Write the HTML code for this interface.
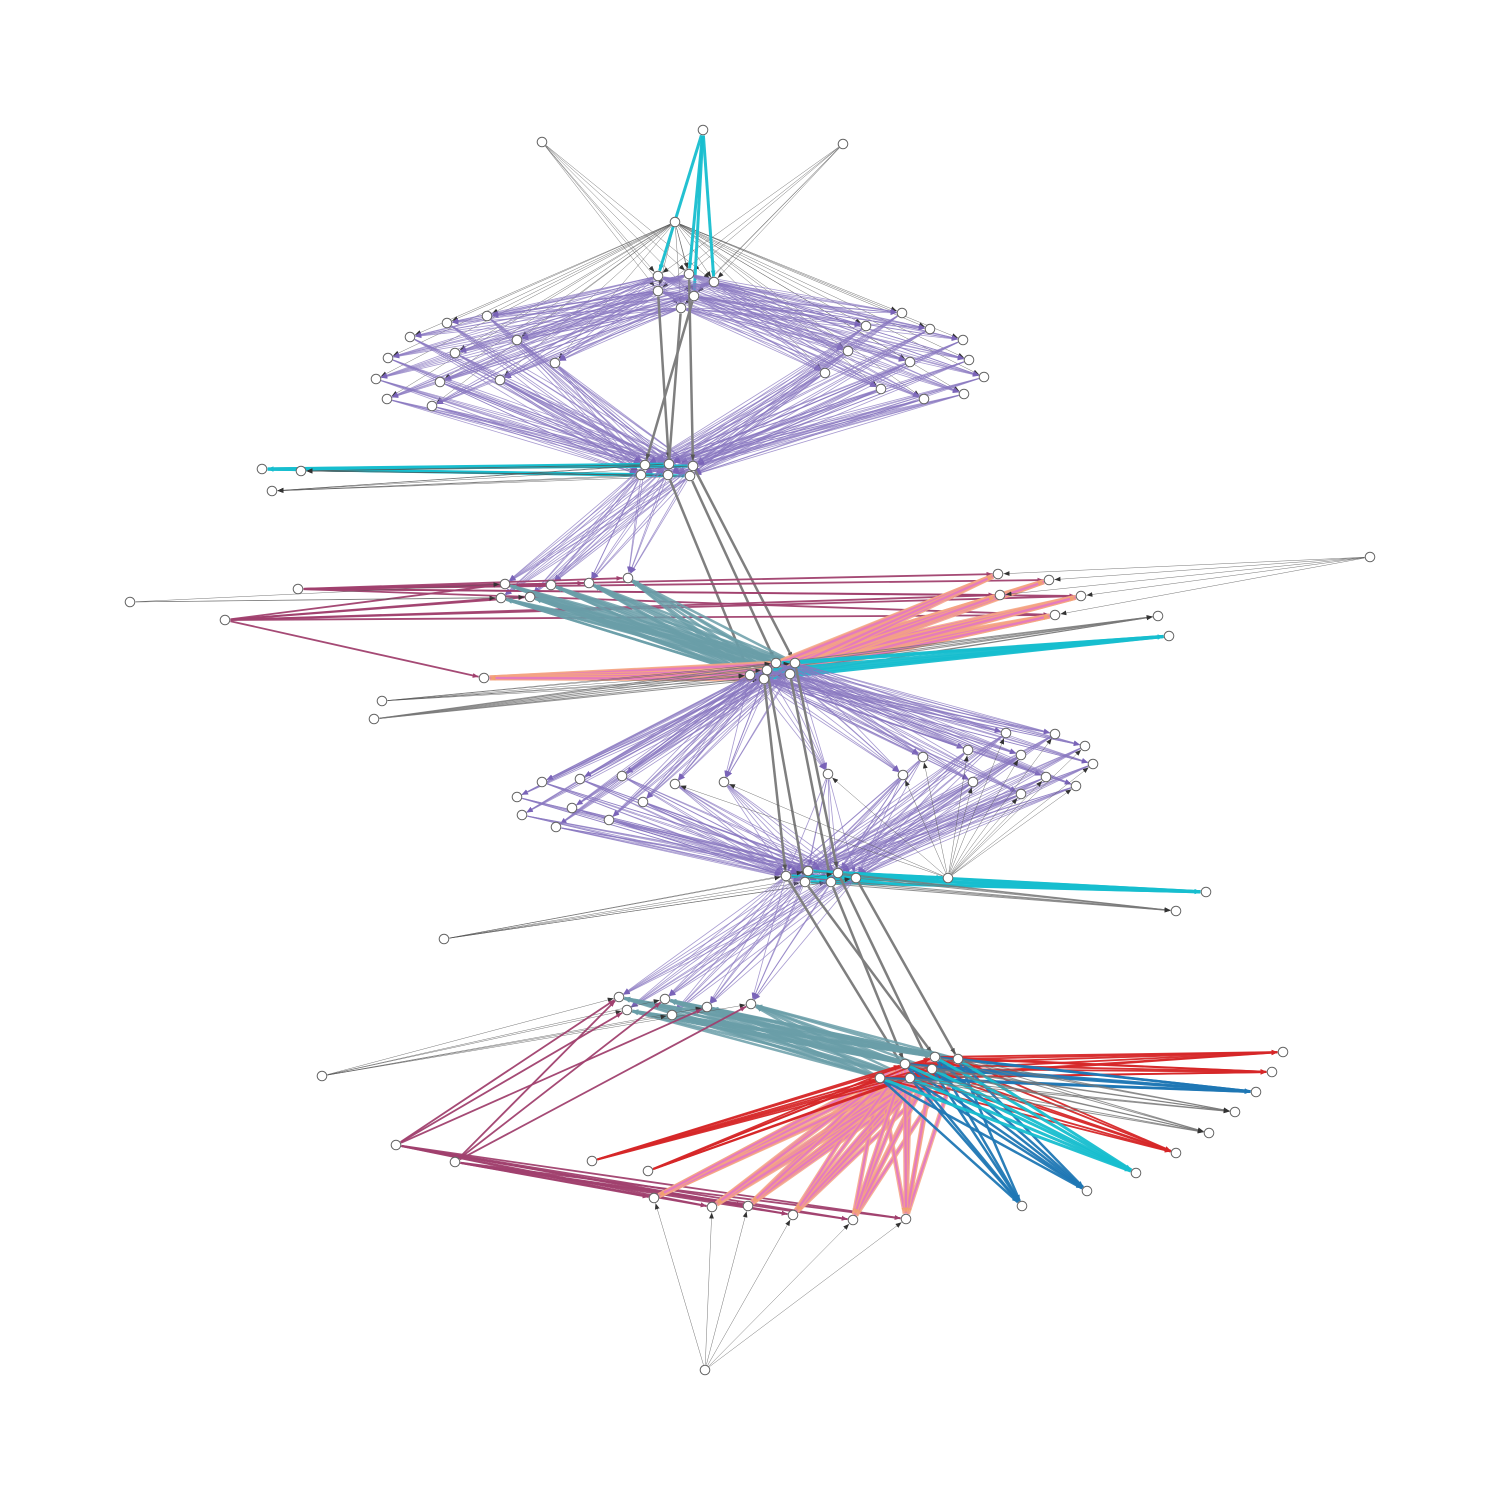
<!DOCTYPE html>
<html><head><meta charset="utf-8"><style>
html,body{margin:0;padding:0;background:#fff;}
svg{display:block;font-family:"Liberation Sans",sans-serif;}
</style></head><body>
<svg id="g" width="1500" height="1500" viewBox="0 0 1500 1500" xmlns="http://www.w3.org/2000/svg">
<rect width="1500" height="1500" fill="#fff"/>
<g id="edges"></g>
<g id="nodes"></g>
</svg>
<script>
// ---- node data (layout positions of graph nodes) ----
const topNodes=[[703,130],[542,142],[843,144],[675,222]];
const hubA=[[658,276],[689,274],[714,282],[658,291],[694,296],[681,308]];
const ringAL=[[447,323],[487,316],[410,337],[517,340],[388,358],[455,353],[555,363],[376,379],[440,382],[500,380],[387,399],[432,406]];
const ringAR=[[902,313],[866,326],[930,329],[963,340],[848,351],[969,360],[910,362],[825,373],[984,377],[881,389],[964,394],[924,399]];
const hubB=[[645,465],[669,464],[693,466],[641,475],[668,475],[690,476]];
const leftB=[[262,469],[301,471],[272,491]];
const layerC=[[505,584],[551,585],[589,583],[628,578],[501,598],[530,597]];
const leftC=[[298,589],[130,602],[225,620]];
const rightC=[[998,574],[1049,580],[1000,595],[1081,596],[1055,615]];
const farC=[[1370,557],[1158,616],[1169,636]];
const hubD=[[776,663],[795,663],[767,670],[750,675],[790,674],[764,679]];
const leftD=[[484,678],[382,701],[374,719]];
const ringEL=[[542,782],[580,779],[622,776],[675,784],[724,782],[517,797],[572,808],[643,802],[522,815],[609,820],[556,827]];
const ringER=[[1006,733],[1055,734],[968,750],[1021,755],[1085,746],[923,757],[1093,764],[828,774],[903,775],[973,782],[1046,777],[1076,786],[1021,794]];
const hubF=[[786,876],[808,871],[838,873],[856,878],[805,882],[831,882]];
const sideF=[[948,878],[1206,892],[1176,911],[444,939]];
const layerG=[[619,997],[665,999],[707,1007],[751,1004],[627,1010],[672,1015]];
const sideG=[[322,1076],[396,1145],[455,1162],[592,1161],[648,1171]];
const hubH=[[935,1057],[958,1059],[880,1078],[910,1078],[932,1069],[905,1064]];
const fanH=[[1283,1052],[1272,1072],[1256,1092],[1235,1112],[1209,1133],[1176,1153],[1136,1173],[1087,1191],[1022,1206]];
const bottom=[[654,1198],[712,1207],[748,1206],[793,1215],[853,1220],[906,1219]];
const root=[[705,1370]];

const groups={topNodes,hubA,ringAL,ringAR,hubB,leftB,layerC,leftC,rightC,farC,hubD,leftD,ringEL,ringER,hubF,sideF,layerG,sideG,hubH,fanH,bottom,root};

// ---- edge bundles: [from, to, style]; "group" = all nodes, "group:i,j" = subset ----
const edgeBundles=[
 ["topNodes:1","hubA","thin"],["topNodes:2","hubA","thin"],
 ["topNodes:3","ringAL","thin"],["topNodes:3","ringAR","thin"],["topNodes:3","hubA","thin"],
 ["topNodes:0","hubA:0,1,2,4","cyan"],
 ["hubA","ringAL","purple"],["hubA","ringAR","purple"],
 ["ringAL","hubB","purple"],["ringAR","hubB","purple"],
 ["hubA:3","hubB:1","gray"],["hubA:1","hubB:2","gray"],["hubA:4","hubB:0","gray"],["hubA:5","hubB:4","gray"],
 ["hubB","leftB:0","cyan"],["hubB","leftB:1,2","thin"],
 ["hubB","layerC","purple"],
 ["hubB:4","hubD:3","gray2"],["hubB:2","hubD:1","gray2"],["hubB:5","hubD:0","gray2"],
 ["leftC:0","layerC:0,1,2,3","magenta"],["leftC:2","layerC:0,4,5","magenta"],
 ["leftC:2","leftD:0","magenta"],["leftC:0","rightC","magenta"],["leftC:2","rightC:2,3,4","magenta"],
 ["leftC:1","layerC:4,5,0","thin"],
 ["hubD","layerC","teal"],
 ["hubD","rightC","pink"],["hubD","leftD:0","pink"],
 ["hubD","farC:1","gray1"],["hubD","farC:2","cyan"],
 ["farC:0","rightC","thin"],
 ["leftD:1","hubD","thin"],["leftD:2","hubD","gray1"],
 ["hubD","ringEL","purple"],["hubD","ringER","purple"],
 ["ringEL","hubF","purple"],["ringER","hubF","purple"],
 ["hubD:5","hubF:0","gray2"],["hubD:2","hubF:4","gray2"],["hubD:4","hubF:5","gray2"],["hubD:1","hubF:2","gray2"],
 ["sideF:0","ringER","thin"],["sideF:0","ringEL:3,4","thin"],
 ["hubF","sideF:0","cyan"],["hubF","sideF:1","cyan"],["hubF","sideF:2","gray1"],["sideF:3","hubF","thin"],
 ["hubF","layerG","purple"],
 ["hubF:0","hubH:3","gray2"],["hubF:4","hubH:0","gray2"],["hubF:2","hubH:4","gray2"],["hubF:3","hubH:1","gray2"],["hubF:5","hubH:5","gray2"],
 ["hubH","layerG","teal"],
 ["sideG:0","layerG","thin"],
 ["sideG:1","layerG:0,4,2","magenta"],["sideG:2","layerG:0,1,3","magenta"],
 ["sideG:1","bottom","magenta"],["sideG:2","bottom","magenta"],
 ["hubH","bottom","pink"],
 ["sideG:3","hubH","red"],["sideG:4","hubH","red"],
 ["hubH","fanH:0,1,5","red"],["hubH","fanH:2,7,8","blue"],["hubH","fanH:6","cyan"],["hubH","fanH:3,4","gray1"],
 ["root","bottom","thin"]
];

const styles={
 thin:{c:"#555",w:0.5,o:0.8,m:"#333"},
 purple:{c:"#8a78c0",w:0.8,o:0.75,m:"#7a64b8"},
 cyan:{c:"#17becf",w:3,o:0.95,m:"#17becf"},
 gray:{c:"#7f7f7f",w:2.5,o:1,m:"#555"},
 gray2:{c:"#7f7f7f",w:2.5,o:1,m:"#555"},
 gray1:{c:"#777",w:1,o:0.8,m:"#333"},
 magenta:{c:"#a0406e",w:1.8,o:0.95,m:"#a0406e"},
 teal:{c:"#6a9ea8",w:2.5,o:0.85,m:"#6a9ea8"},
 pink:{c:"#e377c2",w:2.3,o:0.9,m:"#f0a070",under:"#f4a582"},
 red:{c:"#d62728",w:1.8,o:0.95,m:"#d62728"},
 blue:{c:"#1f77b4",w:2.5,o:0.95,m:"#1f77b4"}
};

const NS="http://www.w3.org/2000/svg";
const svg=document.getElementById('g');
const eg=document.getElementById('edges'), ng=document.getElementById('nodes');
const defs=document.createElementNS(NS,'defs');
svg.insertBefore(defs,svg.firstChild);
Object.keys(styles).forEach(k=>{
 const m=document.createElementNS(NS,'marker');
 m.setAttribute('id','ar-'+k);
 m.setAttribute('viewBox','0 0 10 10');m.setAttribute('refX','10');m.setAttribute('refY','5');
 m.setAttribute('markerUnits','userSpaceOnUse');
 m.setAttribute('markerWidth','6');m.setAttribute('markerHeight','6');m.setAttribute('orient','auto');
 const p=document.createElementNS(NS,'path');
 p.setAttribute('d','M0,1 L10,5 L0,9 z');p.setAttribute('fill',styles[k].m);
 m.appendChild(p);defs.appendChild(m);
});
function resolve(ref){
 const [g,idx]=ref.split(':');const arr=groups[g];
 if(!idx) return arr;
 return idx.split(',').map(i=>arr[+i]);
}
const R=5.5;
edgeBundles.forEach(([f,t,s])=>{
 const st=styles[s];
 resolve(f).forEach(a=>resolve(t).forEach(b=>{
  const dx=b[0]-a[0],dy=b[1]-a[1],L=Math.hypot(dx,dy)||1;
  const x1=a[0]+dx/L*R,y1=a[1]+dy/L*R,x2=b[0]-dx/L*R,y2=b[1]-dy/L*R;
  if(st.under){
   const u=document.createElementNS(NS,'line');
   
   
   u.setAttribute('x1',x1);u.setAttribute('y1',y1);u.setAttribute('x2',x2);u.setAttribute('y2',y2);
   u.setAttribute('stroke',st.under);u.setAttribute('stroke-width',st.w+2.5);u.setAttribute('stroke-opacity',0.85);
   eg.appendChild(u);
  }
  const l=document.createElementNS(NS,'line');
  
  
  l.setAttribute('x1',x1);l.setAttribute('y1',y1);l.setAttribute('x2',x2);l.setAttribute('y2',y2);
  l.setAttribute('stroke',st.c);l.setAttribute('stroke-width',st.w);l.setAttribute('stroke-opacity',st.o);
  l.setAttribute('marker-end','url(#ar-'+s+')');
  eg.appendChild(l);
 }));
});
Object.keys(groups).forEach(g=>groups[g].forEach(p=>{
 const c=document.createElementNS(NS,'circle');
 
 
 c.setAttribute('cx',p[0]);c.setAttribute('cy',p[1]);c.setAttribute('r',4.8);
 c.setAttribute('fill','#fff');c.setAttribute('stroke','#666');c.setAttribute('stroke-width',1);
 ng.appendChild(c);
}));
</script>
</body></html>
